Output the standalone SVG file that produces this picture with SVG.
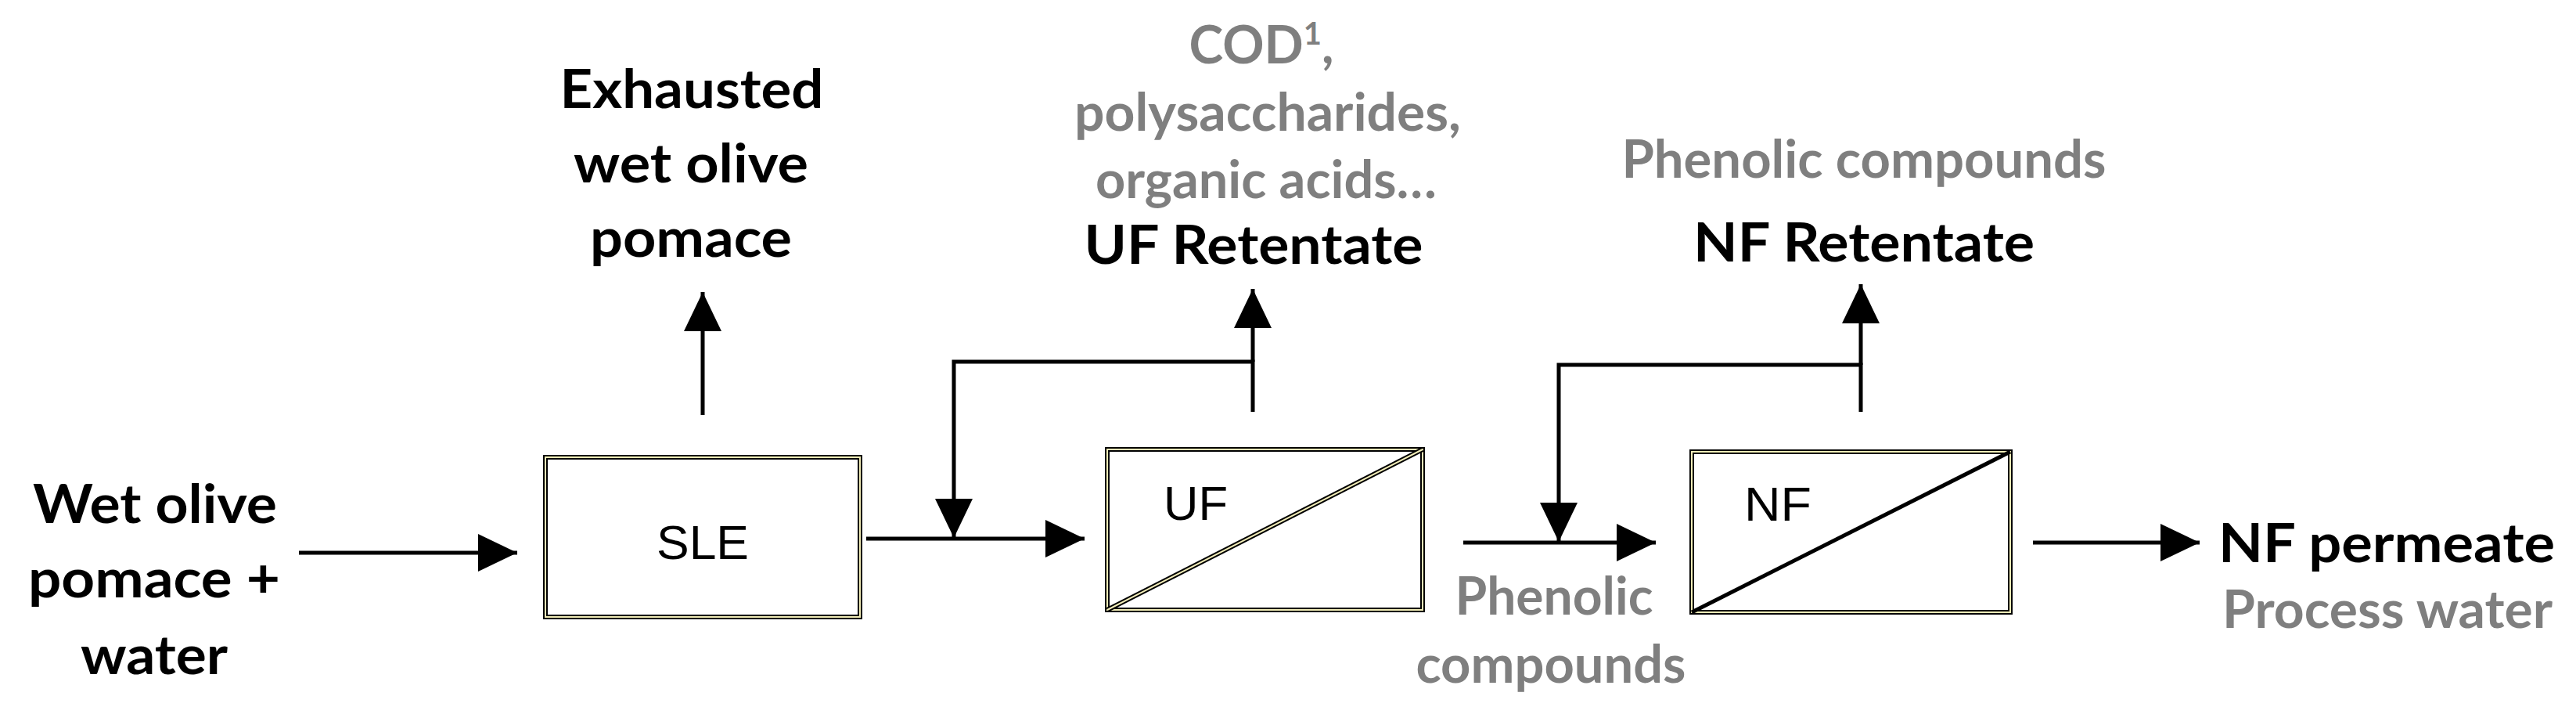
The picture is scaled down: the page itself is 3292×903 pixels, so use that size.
<svg xmlns="http://www.w3.org/2000/svg" width="3292" height="903" viewBox="0 0 3292 903">
<style>
.b{font-family:Lato,"Liberation Sans",sans-serif;font-weight:bold;font-size:68px;fill:#000;text-anchor:middle}
.g{font-family:Lato,"Liberation Sans",sans-serif;font-weight:bold;font-size:66px;fill:#7f7f7f;text-anchor:middle}
.n{font-family:"Liberation Sans",Arial,sans-serif;font-size:62px;fill:#000;text-anchor:middle}
.ln{stroke:#000;stroke-width:5;fill:none}
.bo{fill:#fff;stroke:#000;stroke-width:6}
.bi{fill:none;stroke:#f2edb8;stroke-width:2}
</style>
<defs>
<marker id="ah" markerUnits="userSpaceOnUse" markerWidth="52" markerHeight="52" refX="50" refY="24" orient="auto" viewBox="0 0 52 52">
<path d="M0,0 L50,24 L0,48 z" fill="#000"/>
</marker>
</defs>
<g id="connectors">
<line class="ln" x1="382" y1="706" x2="661" y2="706" marker-end="url(#ah)"/>
<line class="ln" x1="898" y1="530" x2="898" y2="373" marker-end="url(#ah)"/>
<line class="ln" x1="1107" y1="688" x2="1386" y2="688" marker-end="url(#ah)"/>
<polyline class="ln" points="1601,526 1601,462 1219,462 1219,687" marker-end="url(#ah)"/>
<line class="ln" x1="1601" y1="462" x2="1601" y2="369" marker-end="url(#ah)"/>
<line class="ln" x1="1870" y1="693" x2="2116" y2="693" marker-end="url(#ah)"/>
<polyline class="ln" points="2378,526 2378,466 1992,466 1992,692" marker-end="url(#ah)"/>
<line class="ln" x1="2378" y1="466" x2="2378" y2="363" marker-end="url(#ah)"/>
<line class="ln" x1="2598" y1="693" x2="2811" y2="693" marker-end="url(#ah)"/>
</g>
<g id="input">
<text class="b" x="198" y="668" textLength="312" lengthAdjust="spacingAndGlyphs">Wet olive</text>
<text class="b" x="197" y="763" textLength="322" lengthAdjust="spacingAndGlyphs">pomace +</text>
<text class="b" x="197" y="861" textLength="188" lengthAdjust="spacingAndGlyphs">water</text>
</g>
<g id="sle">
<rect class="bo" x="697" y="584" width="402" height="204"/>
<rect class="bi" x="697" y="584" width="402" height="204"/>
<text class="n" x="898" y="714" textLength="118" lengthAdjust="spacingAndGlyphs">SLE</text>
</g>
<g id="exhausted">
<text class="b" x="884" y="138" textLength="337" lengthAdjust="spacingAndGlyphs">Exhausted</text>
<text class="b" x="883" y="233" textLength="300" lengthAdjust="spacingAndGlyphs">wet olive</text>
<text class="b" x="883" y="328" textLength="258" lengthAdjust="spacingAndGlyphs">pomace</text>
</g>
<g id="uf">
<rect class="bo" x="1415" y="574" width="403" height="205"/>
<rect class="bi" x="1415" y="574" width="403" height="205"/>
<line x1="1415" y1="779" x2="1818" y2="574" stroke="#000" stroke-width="6"/>
<line x1="1415" y1="779" x2="1818" y2="574" stroke="#f2edb8" stroke-width="2"/>
<text class="n" x="1528" y="664" textLength="82" lengthAdjust="spacingAndGlyphs">UF</text>
</g>
<g id="uf-retentate">
<text class="g" x="1612" y="81">COD<tspan font-size="40" dy="-24">1</tspan><tspan dy="24">,</tspan></text>
<text class="g" x="1620" y="167" textLength="494" lengthAdjust="spacingAndGlyphs">polysaccharides,</text>
<text class="g" x="1618" y="253" textLength="436" lengthAdjust="spacingAndGlyphs">organic acids…</text>
<text class="b" x="1602" y="337" textLength="433" lengthAdjust="spacingAndGlyphs">UF Retentate</text>
</g>
<g id="uf-permeate">
<text class="g" x="1986" y="785" textLength="253" lengthAdjust="spacingAndGlyphs">Phenolic</text>
<text class="g" x="1982" y="872" textLength="345" lengthAdjust="spacingAndGlyphs">compounds</text>
</g>
<g id="nf">
<rect class="bo" x="2162" y="577" width="407" height="205"/>
<rect class="bi" x="2162" y="577" width="407" height="205"/>
<line x1="2162" y1="782" x2="2569" y2="577" stroke="#000" stroke-width="5"/>
<text class="n" x="2272" y="665" textLength="86" lengthAdjust="spacingAndGlyphs">NF</text>
</g>
<g id="nf-retentate">
<text class="g" x="2382" y="227" textLength="619" lengthAdjust="spacingAndGlyphs">Phenolic compounds</text>
<text class="b" x="2382" y="334" textLength="436" lengthAdjust="spacingAndGlyphs">NF Retentate</text>
</g>
<g id="nf-permeate">
<text class="b" x="3050" y="718" textLength="430" lengthAdjust="spacingAndGlyphs">NF permeate</text>
<text class="g" x="3051" y="802" textLength="422" lengthAdjust="spacingAndGlyphs">Process water</text>
</g>
</svg>
